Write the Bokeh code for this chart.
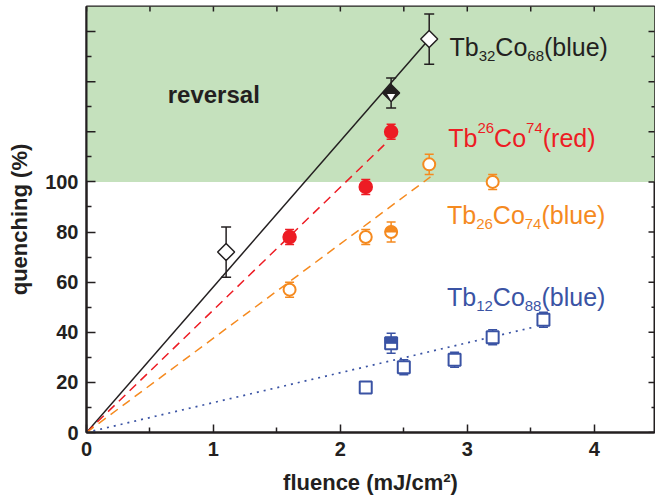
import math
from bokeh.plotting import figure
from bokeh.models import ColumnDataSource, Whisker, TeeHead, BoxAnnotation, FixedTicker, Range1d
from bokeh.core.properties import value
from bokeh.embed import file_html
from bokeh.resources import INLINE

# ---------------- data ----------------
# Tb32Co68 (blue) - black diamonds
k_x = [1.1, 2.7]
k_y = [72, 157]
k_err = [10, 10]
k_half_x = [2.4]
k_half_y = [135.5]
k_half_err = [6]
k_fit_x = [0, 2.7]
k_fit_y = [0, 157]

# Tb26Co74 (red) - red filled circles
r_x = [1.6, 2.2, 2.4]
r_y = [78, 98, 120]
r_err = [3, 3, 3]
r_fit_x = [0, 2.35]
r_fit_y = [0, 115]

# Tb26Co74 (blue) - orange open circles
o_x = [1.6, 2.2, 2.7, 3.2]
o_y = [57, 78, 107, 100]
o_err = [3, 3, 4, 3]
o_half_x = [2.4]
o_half_y = [80]
o_half_err = [4]
o_fit_x = [0, 2.71]
o_fit_y = [0, 102]

# Tb12Co88 (blue) - blue open squares
b_x = [2.2, 2.5, 2.9, 3.2, 3.6]
b_y = [18, 26, 29, 38, 45]
b_err = [0, 3, 3, 3, 3]
b_half_x = [2.4]
b_half_y = [35.6]
b_half_err = [4]
b_fit_x = [0, 3.52]
b_fit_y = [0, 42]

x_ticks = [0, 1, 2, 3, 4]
x_minor = [0.5, 1.5, 2.5, 3.5, 4.5]
y_ticks = [0, 20, 40, 60, 80, 100]
y_ticks_upper = [120, 140, 160]
y_minor = [10, 30, 50, 70, 90, 110, 130, 150]

reversal_level = 100
X_MAX = 4.475
Y_MAX = 170

BLACK = "#231f20"
RED = "#ed1c24"
ORANGE = "#f58a1f"
BLUE = "#3a53a4"
GREEN = "#c5e1bd"
FONT = "Liberation Sans"

# ---------------- figure ----------------
p = figure(width=655, height=500, output_backend="svg", toolbar_location=None,
           x_range=Range1d(0, X_MAX), y_range=Range1d(0, Y_MAX),
           min_border_left=86, min_border_right=1, min_border_top=6, min_border_bottom=68,
           x_axis_label="fluence (mJ/cm²)", y_axis_label="quenching (%)")
p.grid.visible = False
p.outline_line_color = BLACK
p.outline_line_width = 2
p.background_fill_color = "white"

p.add_layout(BoxAnnotation(bottom=reversal_level, fill_color=GREEN, fill_alpha=1.0,
                           line_color=None, level="underlay"))

def style_axis(ax):
    ax.axis_line_color = BLACK
    ax.axis_line_width = 2
    ax.major_tick_line_color = BLACK
    ax.minor_tick_line_color = BLACK
    ax.major_tick_line_width = 1.5
    ax.minor_tick_line_width = 1.5
    ax.major_tick_in = 9
    ax.major_tick_out = 0
    ax.minor_tick_in = 5
    ax.minor_tick_out = 0
    ax.major_label_text_font = FONT
    ax.major_label_text_font_style = "bold"
    ax.major_label_text_font_size = "20px"
    ax.major_label_text_color = BLACK
    ax.axis_label_text_font = FONT
    ax.axis_label_text_font_style = "bold"
    ax.axis_label_text_font_size = "22px"
    ax.axis_label_text_color = BLACK

xa = p.xaxis[0]
ya = p.yaxis[0]
xa.ticker = FixedTicker(ticks=x_ticks, minor_ticks=x_minor)
ya.ticker = FixedTicker(ticks=y_ticks, minor_ticks=y_minor)
style_axis(xa)
style_axis(ya)
xa.major_tick_in = 8
xa.major_label_standoff = 9
xa.axis_label_standoff = 11
ya.major_label_standoff = 8
ya.axis_label_standoff = 10

# unlabelled ticks: upper part of left axis, right and top edges
p.scatter([0] * len(y_ticks_upper), y_ticks_upper, marker="dash", size=18,
          line_color=BLACK, line_width=1.5)
p.scatter([X_MAX] * len(y_ticks + y_ticks_upper), y_ticks + y_ticks_upper, marker="dash", size=12,
          line_color=BLACK, line_width=1.5)
p.scatter([X_MAX] * len(y_minor), y_minor, marker="dash", size=6,
          line_color=BLACK, line_width=1.5)
p.scatter(x_ticks + x_minor, [Y_MAX] * len(x_ticks + x_minor), marker="dash", size=10,
          angle=math.pi / 2, line_color=BLACK, line_width=1.5)

# ---------------- fit lines ----------------
p.line(k_fit_x, k_fit_y, line_color=BLACK, line_width=1.5)
p.line(r_fit_x, r_fit_y, line_color=RED, line_width=1.5, line_dash="9 6")
p.line(o_fit_x, o_fit_y, line_color=ORANGE, line_width=1.5, line_dash="9 6")
p.line(b_fit_x, b_fit_y, line_color=BLUE, line_width=1.7, line_dash="2 5")

# ---------------- error bars ----------------
def whisk(xs, ys, errs, color, head):
    src = ColumnDataSource(dict(x=xs, lo=[y - e for y, e in zip(ys, errs)],
                                hi=[y + e for y, e in zip(ys, errs)]))
    w = Whisker(source=src, base="x", lower="lo", upper="hi", line_color=color, line_width=1.5,
                upper_head=TeeHead(size=head, line_color=color, line_width=1.5),
                lower_head=TeeHead(size=head, line_color=color, line_width=1.5))
    p.add_layout(w)

whisk(k_x, k_y, k_err, BLACK, 10)
whisk(k_half_x, k_half_y, k_half_err, BLACK, 10)
whisk(r_x, r_y, r_err, RED, 9)
whisk(o_x, o_y, o_err, ORANGE, 9)
whisk(o_half_x, o_half_y, o_half_err, ORANGE, 9)
whisk([x for x, e in zip(b_x, b_err) if e > 0], [y for y, e in zip(b_y, b_err) if e > 0],
      [e for e in b_err if e > 0], BLUE, 9)
whisk(b_half_x, b_half_y, b_half_err, BLUE, 9)

# ---------------- markers ----------------
# black diamonds (rotated squares)
p.scatter(k_x, k_y, marker="square", angle=math.pi / 4, size=12, fill_color="white",
          line_color=BLACK, line_width=1.5)
p.scatter(k_half_x, k_half_y, marker="square", angle=math.pi / 4, size=12, fill_color=BLACK,
          line_color=BLACK, line_width=1.5)
p.scatter(k_half_x, [y - 1.3 for y in k_half_y], marker="inverted_triangle", size=8,
          fill_color="white", line_color=None)

# red filled circles
p.scatter(r_x, r_y, marker="circle", size=13, fill_color=RED, line_color=RED, line_width=1.5)

# orange open circles
p.scatter(o_x, o_y, marker="circle", size=12, fill_color="white", line_color=ORANGE, line_width=2)
p.scatter(o_half_x, o_half_y, marker="circle", size=12, fill_color="white", line_color=ORANGE, line_width=2)
p.wedge(o_half_x, o_half_y, radius=6, radius_units="screen", start_angle=0, end_angle=math.pi,
        fill_color=ORANGE, line_color=ORANGE)

# blue squares
p.scatter(b_x, b_y, marker="square", size=12, fill_color="white", line_color=BLUE, line_width=2)
p.scatter(b_half_x, b_half_y, marker="square", size=12, fill_color="white", line_color=BLUE, line_width=2)
p.rect(b_half_x, [y + 1.2 for y in b_half_y], width=12, height=6, width_units="screen",
       height_units="screen", fill_color=BLUE, line_color=BLUE)

# ---------------- labels ----------------
W = {"T": 611, "b": 556, "C": 722, "o": 556, "(": 333, ")": 333, "l": 222, "u": 556,
     "e": 556, "r": 333, "d": 556}
for d in "0123456789":
    W[d] = 556

def twidth(s, size):
    return sum(W.get(c, 556) for c in s) / 1000.0 * size

def rich_label(x, y, parts, color, big=25, small=15):
    off = 0.0
    for txt, kind in parts:
        if kind == "n":
            size, dy = big, 0
        elif kind == "sub":
            size, dy = small, 9
        else:
            size, dy = small, -10
        p.text(x=[x], y=[y], text=[txt], x_offset=off, y_offset=dy,
               text_font=value(FONT), text_font_size=value(f"{size}px"), text_color=color,
               text_align="left", text_baseline="alphabetic")
        off += twidth(txt, size)

rich_label(2.86, 154, [("Tb", "n"), ("32", "sub"), ("Co", "n"), ("68", "sub"), ("(blue)", "n")], BLACK)
rich_label(2.85, 117.5, [("Tb", "n"), ("26", "sup"), ("Co", "n"), ("74", "sup"), ("(red)", "n")], RED)
rich_label(2.84, 86.7, [("Tb", "n"), ("26", "sub"), ("Co", "n"), ("74", "sub"), ("(blue)", "n")], ORANGE)
rich_label(2.84, 53.9, [("Tb", "n"), ("12", "sub"), ("Co", "n"), ("88", "sub"), ("(blue)", "n")], BLUE)

p.text(x=[0.64], y=[134.7], text=["reversal"], text_font=value(FONT), text_font_size=value("24px"),
       text_font_style="bold", text_color=BLACK, text_align="left", text_baseline="alphabetic")

open("out.html", "w").write(file_html(p, INLINE))
